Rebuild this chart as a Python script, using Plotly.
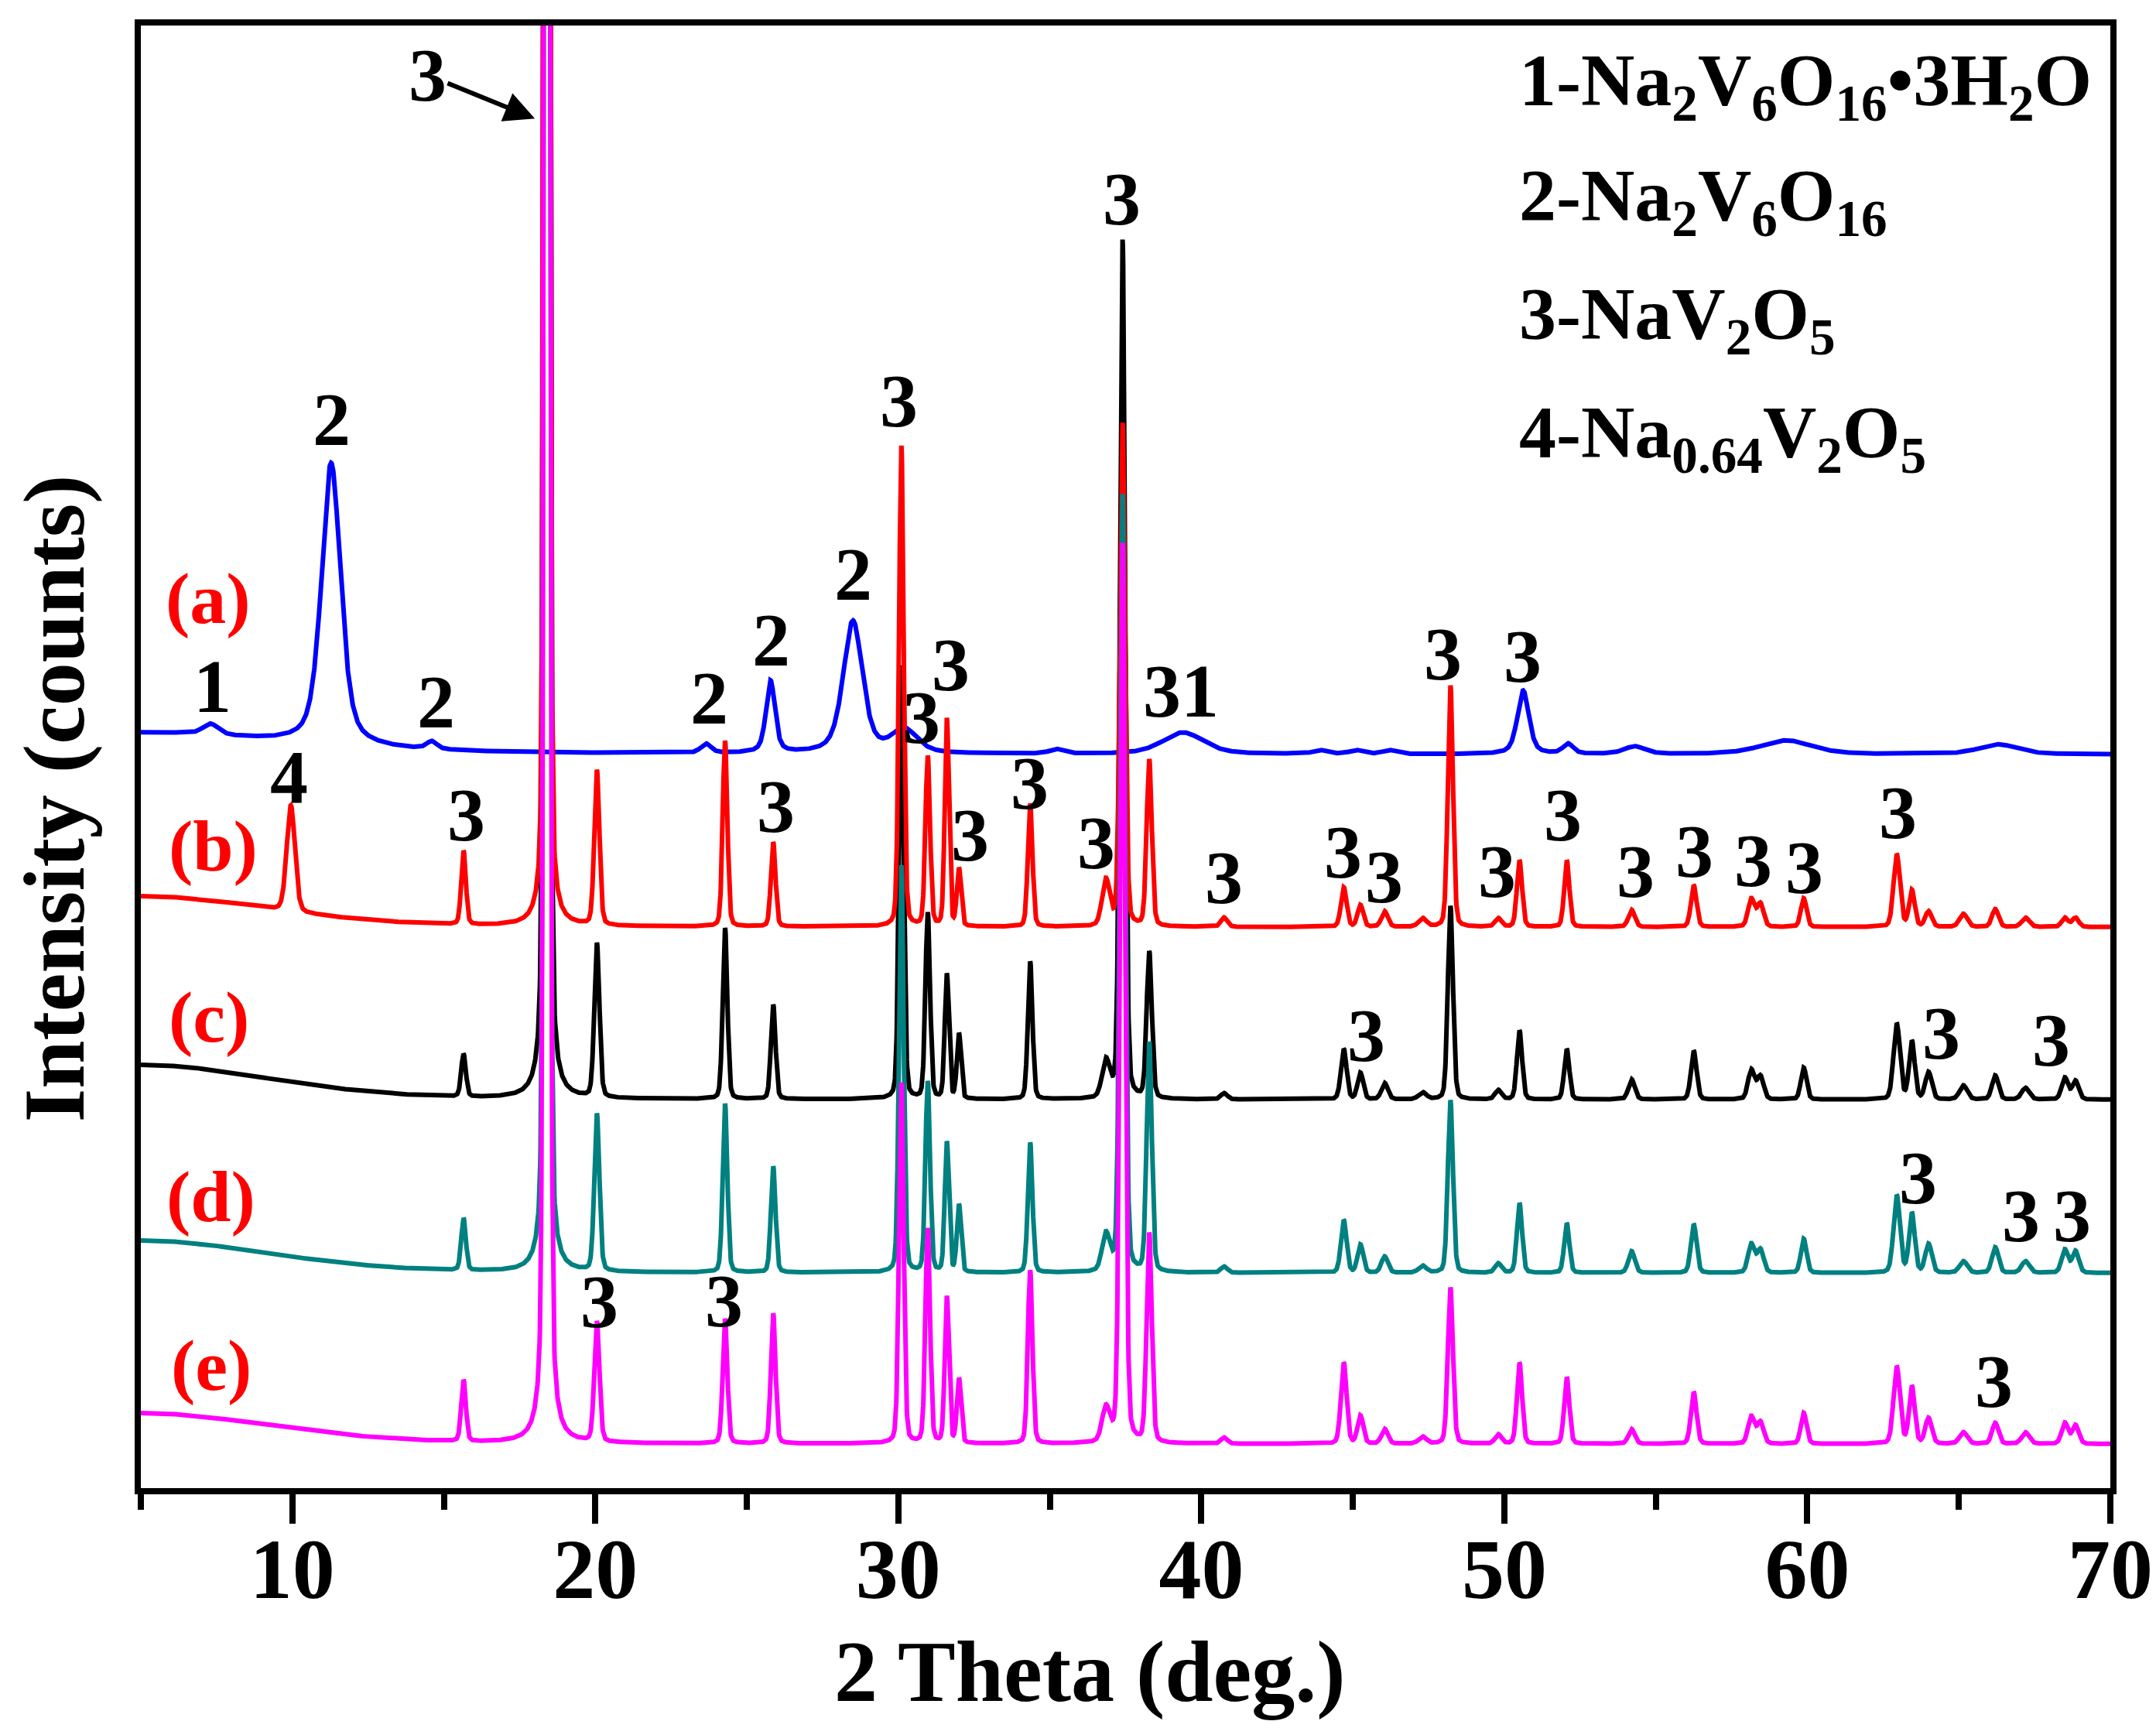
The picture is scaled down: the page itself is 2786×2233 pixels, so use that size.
import numpy as np
import plotly.graph_objects as go

# ---------------- data ----------------
# y units: arbitrary intensity units (counts, offset-stacked)
trace_names = ["(a)", "(b)", "(c)", "(d)", "(e)"]
trace_colors = ["#0000FF", "#FF0000", "#000000", "#008080", "#FF00FF"]
offsets = [948, 725, 502, 278, 57]

# pattern (a): Na2V6O16·3H2O / Na2V6O16 peaks (first entry = low-angle background hump)
a_pos = [5.0, 7.3, 11.28, 14.6, 23.65, 25.78, 28.5, 30.2, 35.2, 39.4, 43.9, 45.1, 46.2, 50.62, 52.1, 54.3, 59.3, 66.3]
a_height = [28, 14, 365, 10, 12, 93, 171, 30, 6, 28, 5, 5, 5, 82, 13, 10, 18, 13]
a_fwhm = [11, 0.6, 0.75, 0.4, 0.4, 0.35, 0.75, 1.0, 0.5, 1.6, 0.5, 0.5, 0.5, 0.45, 0.4, 0.8, 2.0, 1.5]

# patterns (b)-(e): NaV2O5 reflections (plus Na0.64V2O5 at 10.0 in (b))
nav_pos = [15.65, 18.4, 20.05, 24.28, 25.87, 30.1, 30.97, 31.6, 32.0, 34.35, 36.85, 37.4, 38.28,
           40.75, 44.7, 45.25, 46.05, 47.3, 48.22, 49.8, 50.5, 52.06, 54.2, 56.25, 58.15, 58.45,
           59.88, 62.95, 63.45, 64.0, 65.15, 66.2, 67.2, 68.5, 68.85]
nav_fwhm = [0.18, 0.16, 0.20, 0.18, 0.18, 0.18, 0.18, 0.16, 0.16, 0.18, 0.30, 0.20, 0.20,
            0.25, 0.22, 0.22, 0.25, 0.30, 0.20, 0.25, 0.20, 0.20, 0.25, 0.22, 0.25, 0.25,
            0.22, 0.25, 0.22, 0.25, 0.30, 0.25, 0.30, 0.25, 0.25]
b_height = [95, 5000, 200, 240, 109, 621, 219, 268, 74, 159, 59, 650, 215,
            12, 51, 28, 20, 11, 312, 11, 86, 86, 22, 54, 36, 30,
            37, 94, 47, 20, 17, 23, 12, 12, 12]
c_height = [55, 6000, 199, 221, 122, 560, 240, 161, 84, 178, 47, 1110, 189,
            8, 65, 34, 21, 9, 250, 12, 89, 65, 26, 63, 38, 30,
            41, 98, 75, 35, 18, 31, 15, 28, 24]
d_height = [67, 5000, 203, 218, 137, 526, 246, 168, 87, 168, 47, 1005, 296,
            8, 68, 36, 21, 9, 223, 12, 90, 64, 28, 63, 37, 30,
            44, 100, 77, 37, 15, 33, 15, 30, 28]
e_height = [79, 6000, 155, 161, 168, 466, 277, 189, 83, 224, 43, 1163, 270,
            8, 105, 36, 19, 9, 202, 12, 105, 86, 19, 67, 35, 28,
            40, 100, 74, 33, 15, 27, 15, 27, 24]
b_extra_pos = [5.0, 9.95]      # background hump, Na0.64V2O5 peak
b_extra_height = [40, 137]
b_extra_fwhm = [10, 0.32]
bg_pos = 5.0
bg_fwhm = 10
c_bg, d_bg, e_bg = 45, 42, 40

# peak labels: (text, 2theta, y)
label_text = ["2", "1", "2", "2", "2", "2", "3", "3", "3", "3", "31", "3", "3",
              "4", "3", "3", "3", "3", "3", "3", "3", "3", "3", "3", "3", "3", "3", "3", "3",
              "3", "3", "3",
              "3", "3", "3",
              "3", "3", "3"]
label_x = [11.30, 7.35, 14.74, 23.76, 25.81, 28.51, 30.02, 30.76, 31.74, 37.38, 39.33, 47.98, 50.61,
           9.89, 15.74, 25.95, 32.36, 34.33, 36.52, 40.75, 44.68, 46.04, 49.75, 51.93, 54.33, 56.27, 58.22, 59.90, 62.98,
           45.45, 64.43, 68.05,
           63.66, 67.05, 68.73,
           20.13, 24.24, 66.15]
label_y = [1381, 1036, 1016, 1021, 1096, 1181, 1405, 996, 1064, 1666, 1030, 1078, 1075,
           919, 870, 881, 844, 911, 834, 789, 822, 790, 797, 870, 797, 823, 811, 802, 873,
           585, 588, 579,
           401, 352, 352,
           241, 242, 138]
sample_label_x = [7.22, 7.40, 7.25, 7.32, 7.32]
sample_label_y = [1150, 830, 609, 377, 159]

legend_lines = ["1-Na<sub>2</sub>V<sub>6</sub>O<sub>16</sub>\u20223H<sub>2</sub>O",
                "2-Na<sub>2</sub>V<sub>6</sub>O<sub>16</sub>",
                "3-NaV<sub>2</sub>O<sub>5</sub>",
                "4-Na<sub>0.64</sub>V<sub>2</sub>O<sub>5</sub>"]
legend_y = [1813, 1664, 1511, 1358]

# ---------------- build curves ----------------
two_theta = np.arange(5.0, 70.0 + 1e-9, 0.01)


def pattern(pos, height, fwhm, eta):
    y = np.zeros_like(two_theta)
    for p, h, w in zip(pos, height, fwhm):
        d = (two_theta - p) / (w / 2.0)
        y += h * (eta * 1.0 / (1.0 + d * d) + (1 - eta) * np.exp(-np.log(2) * d * d))
    return y


curve_a = offsets[0] + pattern(a_pos, a_height, a_fwhm, 0.5)
curve_b = offsets[1] + pattern(nav_pos + b_extra_pos, b_height + b_extra_height, nav_fwhm + b_extra_fwhm, 0.2)
curve_c = offsets[2] + pattern(nav_pos + [bg_pos], c_height + [c_bg], nav_fwhm + [bg_fwhm], 0.2)
curve_d = offsets[3] + pattern(nav_pos + [bg_pos], d_height + [d_bg], nav_fwhm + [bg_fwhm], 0.2)
curve_e = offsets[4] + pattern(nav_pos + [bg_pos], e_height + [e_bg], nav_fwhm + [bg_fwhm], 0.2)
curves = [curve_a, curve_b, curve_c, curve_d, curve_e]

fig = go.Figure()
draw_order = [0, 2, 1, 3, 4]
for i in draw_order:
    fig.add_trace(go.Scatter(x=two_theta, y=curves[i], mode="lines",
                             line=dict(color=trace_colors[i], width=6),
                             name=trace_names[i], showlegend=False, hoverinfo="skip"))

FONT = "Liberation Serif"
ann = []
for t, xx, yy in zip(label_text, label_x, label_y):
    ann.append(dict(x=xx, y=yy, xref="x", yref="y", text="<b>%s</b>" % t, showarrow=False,
                    font=dict(family=FONT, size=98, color="black"), xanchor="center", yanchor="middle"))
for t, xx, yy in zip(trace_names, sample_label_x, sample_label_y):
    ann.append(dict(x=xx, y=yy, xref="x", yref="y", text="<b>%s</b>" % t, showarrow=False,
                    font=dict(family=FONT, size=94, color="#FF0000"), xanchor="center", yanchor="middle"))
for t, yy in zip(legend_lines, legend_y):
    ann.append(dict(x=0.699, y=yy, xref="paper", yref="y", text="<b>%s</b>" % t, showarrow=False,
                    font=dict(family=FONT, size=96, color="black"), xanchor="left", yanchor="middle"))
# arrow pointing to the strongest NaV2O5 peak
ann.append(dict(x=18.05, y=1769, xref="x", yref="y", ax=14.46, ay=1826, axref="x", ayref="y",
                text="<b>3</b>", showarrow=True, arrowhead=2, arrowsize=1.3, arrowwidth=6,
                arrowcolor="black", standoff=2,
                font=dict(family=FONT, size=98, color="black")))
# axis titles
ann.append(dict(x=0.482, y=-0.1254, xref="paper", yref="paper", text="<b>2 Theta (deg.)</b>",
                showarrow=False, font=dict(family=FONT, size=112, color="black"),
                xanchor="center", yanchor="middle"))
ann.append(dict(x=-0.0439, y=0.4714, xref="paper", yref="paper", text="<b>Intensity (counts)</b>",
                showarrow=False, textangle=-90, font=dict(family=FONT, size=112, color="black"),
                xanchor="center", yanchor="middle"))

fig.update_layout(
    width=2786, height=2233,
    margin=dict(l=174, r=62, t=25, b=318),
    paper_bgcolor="white", plot_bgcolor="white",
    annotations=ann,
    xaxis=dict(range=[5, 70], tick0=10, dtick=10, ticks="outside", ticklen=38, tickwidth=8,
               tickcolor="black", showline=True, linewidth=8, linecolor="black", mirror=True,
               showgrid=False, zeroline=False, ticklabelstandoff=-36,
               tickfont=dict(family=FONT, size=110, color="black", weight="bold"),
               minor=dict(dtick=5, tick0=5, ticks="outside", ticklen=20, tickwidth=8, tickcolor="black",
                          showgrid=False)),
    yaxis=dict(range=[0, 1890], showticklabels=False, ticks="", showline=True, linewidth=8,
               linecolor="black", mirror=True, showgrid=False, zeroline=False),
)
fig.write_html("out.html")
